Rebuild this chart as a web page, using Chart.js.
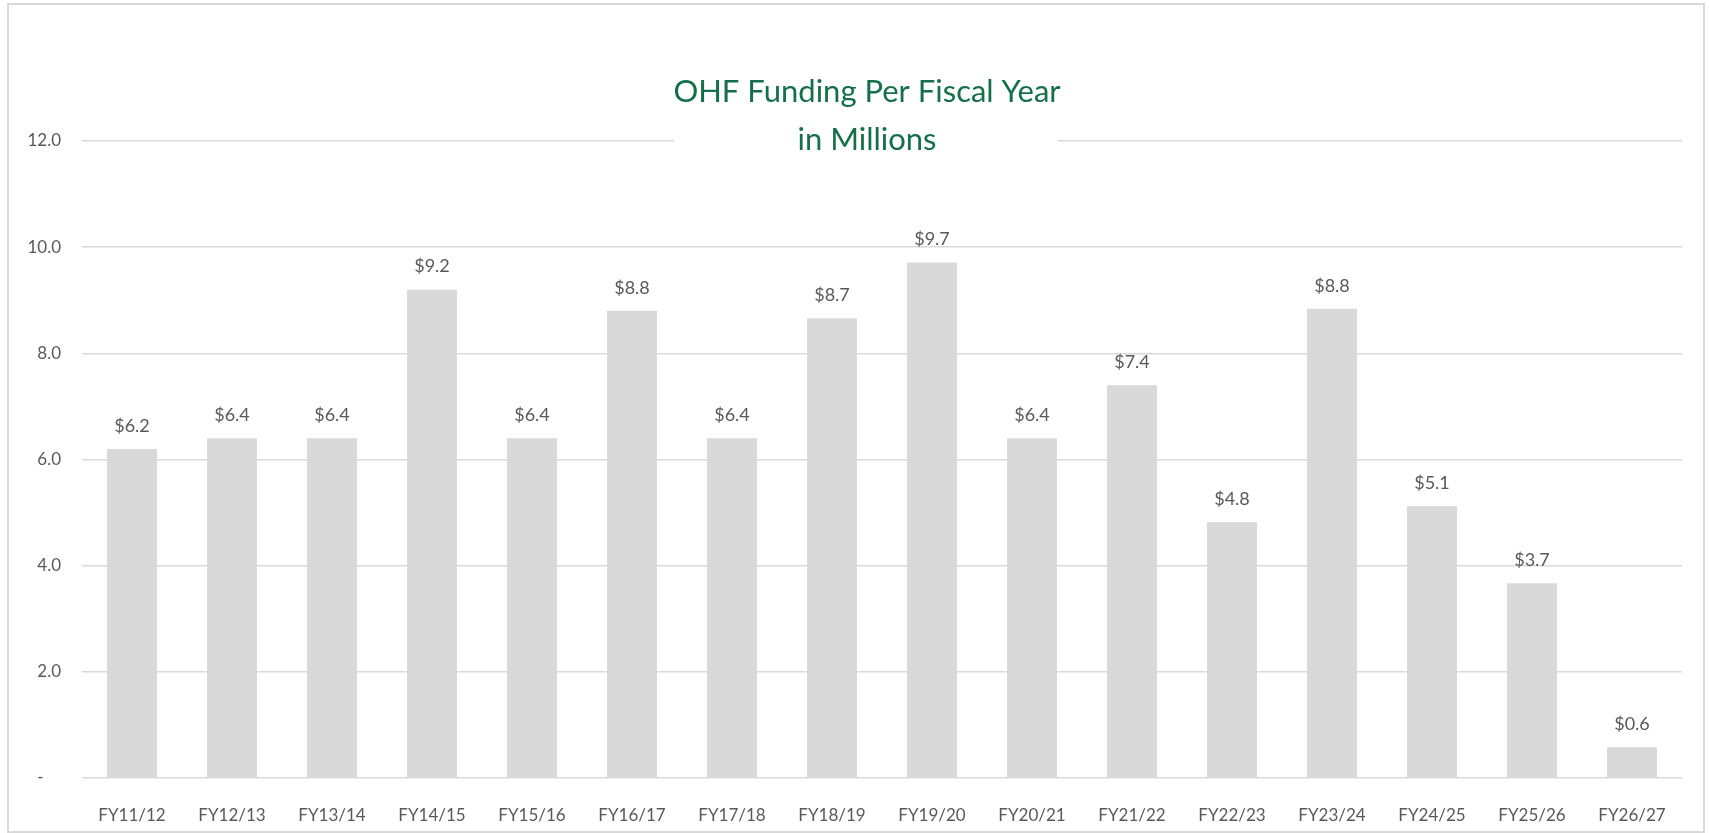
<!DOCTYPE html>
<html>
<head>
<meta charset="utf-8">
<script src="https://cdn.jsdelivr.net/npm/chart.js@4.4.1/dist/chart.umd.min.js"></script>
<style>
  html, body { margin: 0; padding: 0; background: #fff; }
  #wrap { position: absolute; left: 0; top: 0; width: 1709px; height: 833px; }
  #frame {
    position: absolute; left: 7px; top: 3px; width: 1698px; height: 830px;
    border: 2px solid #d9d9d9; box-sizing: border-box; pointer-events: none;
  }
</style>
</head>
<body>
<div id="wrap">
  <canvas id="fundingChart" width="1709" height="833"></canvas>
  <div id="frame"></div>
</div>
<script>
// Chart data
const fiscalYears = ['FY11/12', 'FY12/13', 'FY13/14', 'FY14/15', 'FY15/16', 'FY16/17', 'FY17/18', 'FY18/19',
                     'FY19/20', 'FY20/21', 'FY21/22', 'FY22/23', 'FY23/24', 'FY24/25', 'FY25/26', 'FY26/27'];
const fundingMillions = [6.2, 6.4, 6.4, 9.2, 6.4, 8.8, 6.4, 8.66, 9.71, 6.4, 7.4, 4.82, 8.84, 5.12, 3.67, 0.58];
const yTicks = [0, 2, 4, 6, 8, 10, 12];
const titleLines = ['OHF Funding Per Fiscal Year', 'in Millions'];

const textGray = '#595959';
const gridGray = '#d9d9d9';

// Title sits on top of the 12.0 gridline, so draw it ourselves with a white backing
const overlayTitle = {
    id: 'overlayTitle',
    afterDraw(chart) {
        const ctx = chart.ctx;
        ctx.save();
        ctx.fillStyle = '#ffffff';
        ctx.fillRect(674, 60, 384, 110);
        ctx.fillStyle = '#14704a';
        ctx.font = '31px Lato';
        ctx.textAlign = 'center';
        ctx.textBaseline = 'middle';
        ctx.fillText(titleLines[0], 867, 92);
        ctx.fillText(titleLines[1], 867, 140);
        ctx.restore();
    }
};

// Value labels above each bar
const barLabels = {
    id: 'barLabels',
    afterDatasetsDraw(chart) {
        const ctx = chart.ctx;
        const meta = chart.getDatasetMeta(0);
        ctx.save();
        ctx.fillStyle = textGray;
        ctx.font = '18px Lato';
        ctx.textAlign = 'center';
        ctx.textBaseline = 'middle';
        meta.data.forEach(function(bar, i) {
            const v = chart.data.datasets[0].data[i];
            ctx.fillText('$' + v.toFixed(1), bar.x, bar.y - 23);
        });
        ctx.restore();
    }
};

const ctx = document.getElementById('fundingChart').getContext('2d');
new Chart(ctx, {
    type: 'bar',
    data: {
        labels: fiscalYears,
        datasets: [{
            data: fundingMillions,
            backgroundColor: '#d9d9d9',
            borderWidth: 0,
            barPercentage: 0.5,
            categoryPercentage: 1.0
        }]
    },
    options: {
        responsive: false,
        animation: false,
        layout: { padding: { top: 141, right: 27, bottom: 0, left: 0 } },
        plugins: {
            legend: { display: false },
            title: { display: false },
            tooltip: { enabled: false }
        },
        scales: {
            x: {
                grid: { display: false },
                border: { display: false },
                ticks: { color: textGray, font: { family: 'Lato', size: 17 }, padding: 19, maxRotation: 0 },
                afterFit: function(scale) { scale.height = 55; }
            },
            y: {
                min: 0,
                max: 12,
                afterBuildTicks: function(scale) {
                    scale.ticks = yTicks.map(function(v) { return { value: v }; });
                },
                grid: { color: gridGray, lineWidth: 1.5, drawTicks: false },
                border: { display: false },
                ticks: {
                    color: textGray,
                    font: { family: 'Lato', size: 17 },
                    padding: 21,
                    callback: function(v) { return v === 0 ? '-    ' : v.toFixed(1); }
                },
                afterFit: function(scale) { scale.width = 82; }
            }
        }
    },
    plugins: [barLabels, overlayTitle]
});
</script>
</body>
</html>
